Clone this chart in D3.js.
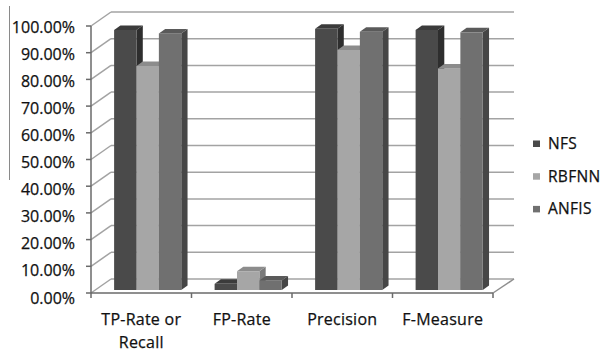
<!DOCTYPE html>
<html>
<head>
<meta charset="utf-8">
<script src="https://cdn.jsdelivr.net/npm/d3@7"></script>
<style>
  html, body { margin: 0; padding: 0; background: #fff; }
  svg { display: block; }
  text { font-family: "Open Sans", "Noto Sans", sans-serif; fill: #111; stroke: #111; stroke-width: 0.25px; }
</style>
</head>
<body>
<svg id="chart" width="604" height="354"></svg>
<script>
// Classifier performance comparison
const categories = ["TP-Rate or Recall", "FP-Rate", "Precision", "F-Measure"];
const categoryLines = [["TP-Rate or", "Recall"], ["FP-Rate"], ["Precision"], ["F-Measure"]];
const series = ["NFS", "RBFNN", "ANFIS"];
const nfsValues   = [0.974, 0.023, 0.978, 0.974];
const rbfnnValues = [0.839, 0.070, 0.899, 0.830];
const anfisValues = [0.961, 0.036, 0.967, 0.965];
const yTicks = [0, 0.1, 0.2, 0.3, 0.4, 0.5, 0.6, 0.7, 0.8, 0.9, 1.0];

const valuesBySeries = { NFS: nfsValues, RBFNN: rbfnnValues, ANFIS: anfisValues };

// face shades per series: front, side, top
const shades = {
  NFS:   { front: "#4a4a4a", side: "#2e2e2e", top: "#3b3b3b" },
  RBFNN: { front: "#a6a6a6", side: "#7a7a7a", top: "#8c8c8c" },
  ANFIS: { front: "#707070", side: "#464646", top: "#5a5a5a" }
};

const svg = d3.select("#chart");

// front plane scales
const x = d3.scaleBand().domain(categories).range([91, 493]).padding(0);
const y = d3.scaleLinear().domain([0, 1]).range([293, 26]);
const xs = d3.scaleBand().domain(series).range([x.bandwidth() * 0.23, x.bandwidth() * 0.898]).padding(0);

// wall depth and bar depth offsets
const wallDx = 20, wallDy = 14;
const barDx = 6.3, barDy = 4.5, barLift = 3;

const fmt = d3.format(".2%");

// stray rule at the far left
svg.append("line")
  .attr("x1", 9.5).attr("x2", 9.5).attr("y1", 6).attr("y2", 180)
  .attr("stroke", "#8a8a8a").attr("stroke-width", 1);

const grid = svg.append("g");
// back wall horizontal gridlines
grid.selectAll("line.back").data(yTicks).join("line")
  .attr("class", "back")
  .attr("x1", 91 + wallDx).attr("x2", 493 + wallDx + 1)
  .attr("y1", d => y(d) - wallDy).attr("y2", d => y(d) - wallDy)
  .attr("stroke", "#a3a3a3").attr("stroke-width", 1.5);
// side wall diagonals
grid.selectAll("line.side").data(yTicks).join("line")
  .attr("class", "side")
  .attr("x1", 91).attr("x2", 91 + wallDx)
  .attr("y1", d => y(d)).attr("y2", d => y(d) - wallDy)
  .attr("stroke", "#a3a3a3").attr("stroke-width", 1.5);
// floor right edge
grid.append("line")
  .attr("x1", 493).attr("x2", 493 + wallDx + 1)
  .attr("y1", y(0)).attr("y2", y(0) - wallDy)
  .attr("stroke", "#8f8f8f").attr("stroke-width", 1.5);

// front axes
const axisG = svg.append("g");
axisG.append("line")
  .attr("x1", 91).attr("x2", 91).attr("y1", y(1)).attr("y2", y(0))
  .attr("stroke", "#6a6a6a").attr("stroke-width", 1.5);
axisG.append("line")
  .attr("x1", 91).attr("x2", 493).attr("y1", y(0)).attr("y2", y(0))
  .attr("stroke", "#6a6a6a").attr("stroke-width", 1.5);
axisG.selectAll("line.ytick").data(yTicks).join("line")
  .attr("class", "ytick")
  .attr("x1", 86).attr("x2", 91).attr("y1", d => y(d)).attr("y2", d => y(d))
  .attr("stroke", "#6a6a6a").attr("stroke-width", 1.5);
const xTickPos = categories.map(c => x(c)).concat([x.range()[1]]);
axisG.selectAll("line.xtick").data(xTickPos).join("line")
  .attr("class", "xtick")
  .attr("x1", d => d).attr("x2", d => d).attr("y1", y(0)).attr("y2", y(0) + 5)
  .attr("stroke", "#6a6a6a").attr("stroke-width", 1.5);

// y tick labels
svg.append("g").selectAll("text").data(yTicks).join("text")
  .attr("x", 75)
  .attr("y", d => y(d) + 7 + (1 - d) * 3.5)
  .attr("text-anchor", "end")
  .attr("font-size", 16)
  .text(d => fmt(d));

// category labels
const catG = svg.append("g");
categories.forEach((c, i) => {
  const t = catG.append("text")
    .attr("x", x(c) + x.bandwidth() / 2)
    .attr("y", 325)
    .attr("text-anchor", "middle")
    .attr("font-size", 16)
    .attr("letter-spacing", 0.25);
  categoryLines[i].forEach((ln, j) => {
    t.append("tspan")
      .attr("x", x(c) + x.bandwidth() / 2)
      .attr("dy", j === 0 ? 0 : 23)
      .text(ln);
  });
});

// 3D columns
const bars = [];
categories.forEach((c, i) => {
  series.forEach(s => bars.push({ cat: c, s, v: valuesBySeries[s][i] }));
});

const barG = svg.append("g");
bars.forEach(b => {
  const x0 = x(b.cat) + xs(b.s);
  const x1 = x0 + xs.bandwidth();
  const yb = y(0) - barLift;
  const yt = y(b.v) - barLift;
  const sh = shades[b.s];
  const g = barG.append("g");
  // right side face
  g.append("path")
    .attr("d", `M${x1},${yb}L${x1 + barDx},${yb - barDy}L${x1 + barDx},${yt - barDy}L${x1},${yt}Z`)
    .attr("fill", sh.side);
  // front face
  g.append("rect")
    .attr("x", x0).attr("y", yt).attr("width", x1 - x0).attr("height", yb - yt)
    .attr("fill", sh.front);
  // top face
  g.append("path")
    .attr("d", `M${x0},${yt}L${x1},${yt}L${x1 + barDx},${yt - barDy}L${x0 + barDx},${yt - barDy}Z`)
    .attr("fill", sh.top);
});

// legend
const legend = svg.append("g");
series.forEach((s, i) => {
  const ly = 149 + i * 32.7;
  legend.append("rect")
    .attr("x", 533).attr("y", ly - 8.5).attr("width", 7).attr("height", 6.5)
    .attr("fill", shades[s].front);
  legend.append("text")
    .attr("x", 548).attr("y", ly)
    .attr("font-size", 15.5)
    .attr("letter-spacing", 0.3)
    .text(s);
});
</script>
</body>
</html>
